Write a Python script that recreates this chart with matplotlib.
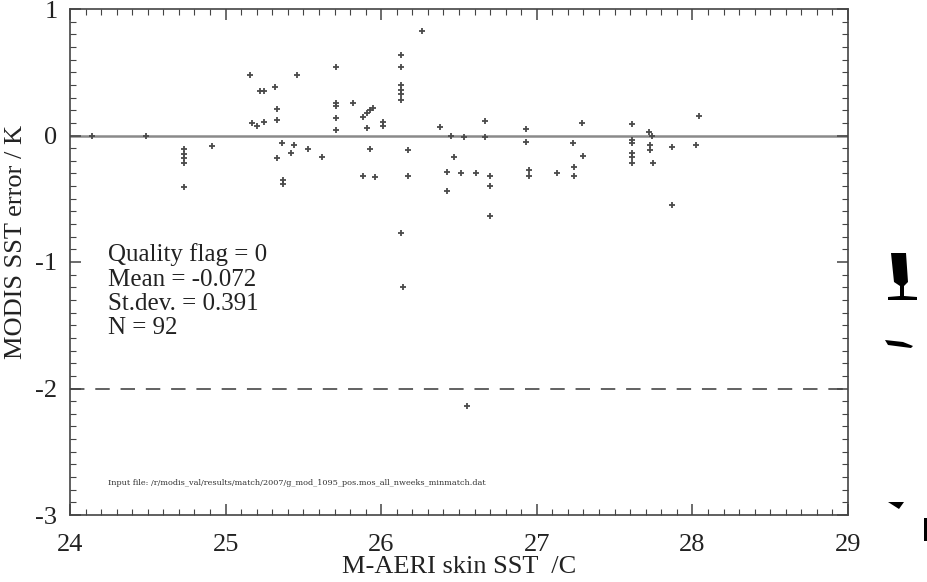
import matplotlib
matplotlib.use("Agg")
import matplotlib.pyplot as plt
from matplotlib.ticker import MultipleLocator, FixedLocator
from matplotlib.patches import Polygon

plt.rcParams['font.family'] = ['Liberation Serif', 'DejaVu Serif']
plt.rcParams['axes.unicode_minus'] = False

# M-AERI skin SST (deg C)
aeri_sst = [24.14, 24.49, 24.73, 24.73, 24.73, 24.73, 24.73, 24.91,
            25.16, 25.22, 25.25, 25.32, 25.46, 25.33, 25.33, 25.17, 25.20, 25.25,
            25.36, 25.44, 25.42, 25.33, 25.53, 25.62, 25.37, 25.37,
            25.71, 25.71, 25.71, 25.71, 25.71, 25.82, 25.885, 25.91, 25.93, 25.95,
            25.91, 26.01, 26.01, 25.93, 25.885, 25.96,
            26.13, 26.13, 26.13, 26.13, 26.13, 26.13, 26.26, 26.17, 26.17,
            26.38, 26.45, 26.53, 26.47, 26.42, 26.51, 26.42, 26.61,
            26.67, 26.67, 26.70, 26.70, 26.70, 26.93, 26.93, 26.95, 26.95,
            27.13, 27.23, 27.24, 27.24, 27.29, 27.30,
            27.61, 27.61, 27.61, 27.61, 27.61, 27.61, 27.72, 27.74, 27.73, 27.73, 27.75,
            27.87, 28.04, 28.02, 27.87, 26.55, 26.13, 26.14]
# MODIS SST error (K)
sst_error = [0.0, 0.0, -0.11, -0.15, -0.18, -0.22, -0.41, -0.08,
             0.48, 0.35, 0.35, 0.38, 0.48, 0.21, 0.12, 0.10, 0.075, 0.11,
             -0.06, -0.075, -0.14, -0.175, -0.11, -0.17, -0.35, -0.38,
             0.54, 0.255, 0.23, 0.14, 0.043, 0.255, 0.15, 0.175, 0.20, 0.22,
             0.057, 0.11, 0.075, -0.107, -0.32, -0.325,
             0.64, 0.54, 0.40, 0.36, 0.33, 0.28, 0.83, -0.115, -0.32,
             0.07, 0.0, -0.015, -0.17, -0.29, -0.30, -0.44, -0.30,
             0.117, -0.015, -0.32, -0.40, -0.64, 0.05, -0.05, -0.27, -0.32,
             -0.30, -0.06, -0.25, -0.32, 0.10, -0.16,
             0.09, -0.035, -0.06, -0.14, -0.17, -0.22, 0.03, 0.0, -0.075, -0.115, -0.22,
             -0.09, 0.154, -0.075, -0.55, -2.14, -0.77, -1.195]

x_ticks = [24, 25, 26, 27, 28, 29]
y_ticks = [-3, -2, -1, 0, 1]
stats_lines = ["Quality flag = 0", "Mean = -0.072", "St.dev. = 0.391", "N = 92"]
limit_line = -2

W, H = 928, 582
fig = plt.figure(figsize=(W / 100, H / 100), dpi=100)
ax = fig.add_axes([70 / W, 1 - 515 / H, (848 - 70) / W, (515 - 9) / H])

ax.axhline(0, color='#8a8a8a', lw=1.8, zorder=1)
ax.axhline(limit_line, color='#555555', lw=1.3, ls=(0, (8, 6)), zorder=1)
ax.plot(aeri_sst, sst_error, ls='none', marker='+', ms=5, mew=1.3,
        color='#4a4a4a', zorder=3)

ax.set_xlim(24, 29)
ax.set_ylim(-3, 1)
ax.xaxis.set_major_locator(FixedLocator(x_ticks))
ax.yaxis.set_major_locator(FixedLocator(y_ticks))
ax.xaxis.set_minor_locator(MultipleLocator(0.1))
ax.yaxis.set_minor_locator(MultipleLocator(0.1))
ax.tick_params(which='both', direction='in', top=True, right=True,
               color='#444444', labelsize=19, labelcolor='#222222')
ax.tick_params(axis='x', which='major', pad=14)
ax.tick_params(axis='y', which='major', pad=9)
ax.tick_params(which='major', length=8, width=1.1)
ax.tick_params(which='minor', length=4, width=0.8)
for s in ax.spines.values():
    s.set_color('#444444')
    s.set_linewidth(1.2)

ax.set_xlabel('M-AERI skin SST  /C', fontsize=19, color='#222222', labelpad=0)
fig.text(16 / W, 1 - 242 / H, 'MODIS SST error / K', rotation=90,
         ha='center', va='center', fontsize=19, color='#222222')

for i, line in enumerate(stats_lines):
    fig.text(108 / W, 1 - (255 + 24.5 * i) / H, line, ha='left', va='center',
             fontsize=18, color='#222222')

fig.text(108 / W, 1 - 483 / H,
         'Input file: /r/modis_val/results/match/2007/g_mod_1095_pos.mos_all_nweeks_minmatch.dat',
         ha='left', va='center', fontsize=5.9, color='#333333',
         family=['DejaVu Serif'])

# clipped fragments of a neighbouring panel at the right edge
def frag(points):
    fig.patches.append(Polygon([(x / W, 1 - y / H) for x, y in points],
                               closed=True, transform=fig.transFigure,
                               facecolor='black', edgecolor='none'))

frag([(891, 253), (906, 253), (908, 282), (904, 286), (904, 296), (917, 297),
      (917, 300), (888, 300), (888, 297), (900, 296), (900, 286), (894, 282)])
frag([(885, 340), (903, 342), (913, 346), (911, 348), (888, 345)])
frag([(888, 502), (904, 502), (899, 509)])
frag([(924, 518), (928, 518), (928, 541), (924, 541)])

fig.savefig('out.png', dpi=100, facecolor='white')
